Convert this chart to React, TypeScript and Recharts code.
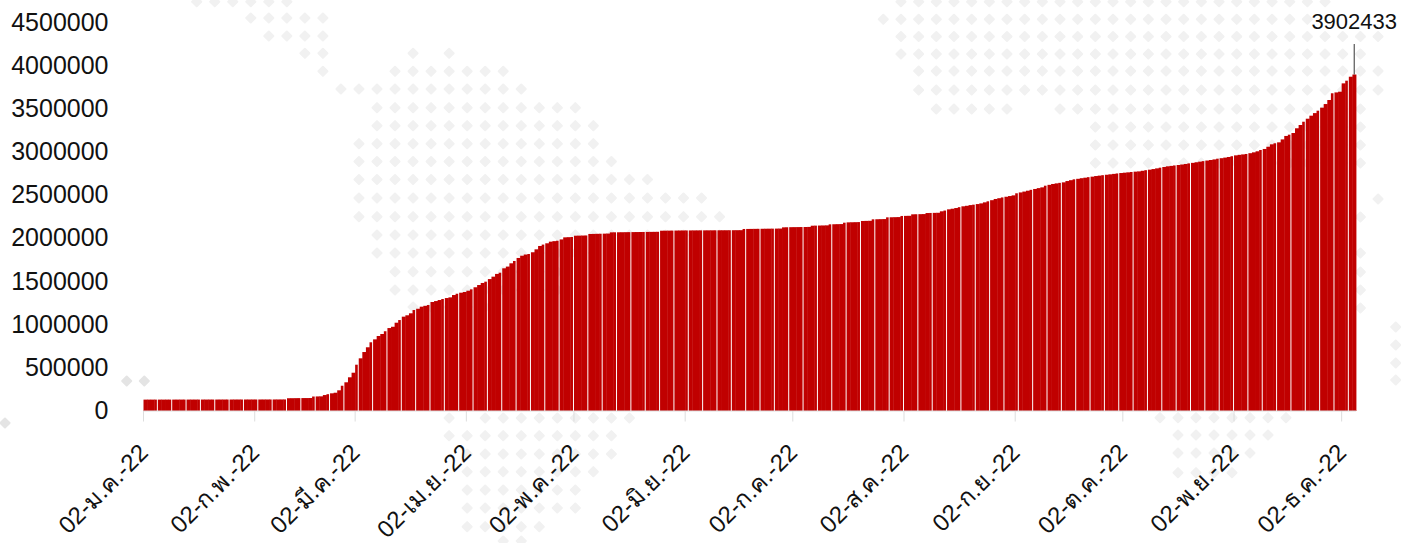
import React from "react";
import { BarChart, Bar, XAxis, YAxis, LabelList } from "recharts";

const monthNames = ["ม.ค.", "ก.พ.", "มี.ค.", "เม.ย.", "พ.ค.", "มิ.ย.", "ก.ค.", "ส.ค.", "ก.ย.", "ต.ค.", "พ.ย.", "ธ.ค."];
const daysInMonth = [31, 28, 31, 30, 31, 30, 31, 31, 30, 31, 30, 31];

const totals = [
  132000, 132000, 132100, 132100, 132200, 132200, 132300, 132300, 132400, 132400,
  132500, 132500, 132600, 132600, 132700, 132700, 132800, 132800, 132900, 132900,
  133000, 133000, 133100, 133100, 133200, 133200, 133300, 133300, 133400, 133400,
  133500, 133500, 133600, 133600, 133700, 133700, 133800, 133800, 133900, 134000,
  148000, 148500, 149000, 149500, 150000, 150000, 150500, 168000, 169000, 170000,
  185000, 195000, 205000, 212000, 240000, 293000, 333000, 391000, 444000, 537000,
  611000, 684000, 739000, 797000, 831000, 870000, 893000, 925000, 962000, 977000,
  1024000, 1055000, 1094000, 1110000, 1133000, 1171000, 1186000, 1210000, 1220000, 1229000,
  1264000, 1275000, 1287000, 1299000, 1310000, 1318000, 1345000, 1360000, 1372000, 1380000,
  1395000, 1411000, 1435000, 1461000, 1485000, 1500000, 1530000, 1558000, 1590000, 1604000,
  1655000, 1675000, 1713000, 1740000, 1775000, 1801000, 1815000, 1821000, 1841000, 1875000,
  1914000, 1930000, 1945000, 1964000, 1970000, 1975000, 1990000, 2014000, 2016000, 2018000,
  2033000, 2034000, 2035000, 2036000, 2053000, 2054000, 2055000, 2056000, 2057000, 2058000,
  2072000, 2072500, 2073000, 2073500, 2074000, 2074500, 2075000, 2075500, 2076000, 2076500,
  2077000, 2077500, 2078000, 2078500, 2091000, 2091500, 2092000, 2092500, 2093000, 2093500,
  2094000, 2094200, 2094400, 2094600, 2094800, 2095000, 2095200, 2095400, 2095600, 2095800,
  2096000, 2096200, 2096400, 2096600, 2096800, 2097000, 2097200, 2111000, 2111500, 2112000,
  2112500, 2113000, 2113500, 2114000, 2114500, 2115000, 2115500, 2116000, 2130000, 2131000,
  2132000, 2132500, 2133000, 2133500, 2134000, 2135000, 2149000, 2150000, 2151000, 2152000,
  2153000, 2165000, 2166000, 2167000, 2168000, 2184000, 2188000, 2189000, 2190000, 2191000,
  2204000, 2205000, 2206000, 2223000, 2224000, 2225000, 2226000, 2246000, 2247000, 2248000,
  2249000, 2262000, 2263000, 2264000, 2281000, 2282000, 2283000, 2284000, 2296000, 2297000,
  2298000, 2299000, 2316000, 2325000, 2339000, 2346000, 2354000, 2364000, 2374000, 2380000,
  2388000, 2393000, 2400000, 2408000, 2420000, 2432000, 2445000, 2459000, 2468000, 2477000,
  2485000, 2493000, 2501000, 2525000, 2535000, 2545000, 2555000, 2565000, 2575000, 2585000,
  2594000, 2613000, 2623000, 2633000, 2640000, 2646000, 2652000, 2667000, 2677000, 2687000,
  2693000, 2700000, 2706000, 2712000, 2718000, 2725000, 2730000, 2735000, 2740000, 2745000,
  2750000, 2755000, 2760000, 2764000, 2768000, 2772000, 2776000, 2779000, 2786000, 2793000,
  2799000, 2806000, 2814000, 2822000, 2830000, 2838000, 2843000, 2848000, 2853000, 2859000,
  2865000, 2872000, 2878000, 2885000, 2892000, 2898000, 2905000, 2911000, 2918000, 2926000,
  2932000, 2939000, 2946000, 2955000, 2965000, 2971000, 2976000, 2981000, 2990000, 3000000,
  3012000, 3027000, 3039000, 3065000, 3093000, 3105000, 3116000, 3150000, 3190000, 3205000,
  3224000, 3279000, 3317000, 3355000, 3390000, 3425000, 3455000, 3483000, 3518000, 3560000,
  3607000, 3685000, 3695000, 3703000, 3800000, 3831000, 3877000, 3902433,
];

const yTicks = [0, 500000, 1000000, 1500000, 2000000, 2500000, 3000000, 3500000, 4000000, 4500000];
const xTicks = monthNames.map((m) => `02-${m}-22`);

function buildDates(count: number): string[] {
  const out: string[] = [];
  let month = 0;
  let day = 2;
  for (let i = 0; i < count; i++) {
    const dd = String(day).padStart(2, "0");
    out.push(`${dd}-${monthNames[month]}-22`);
    day++;
    if (day > daysInMonth[month]) {
      day = 1;
      month++;
    }
  }
  return out;
}
const dates = buildDates(totals.length);
const rows = totals.map((total, i) => ({ date: dates[i], total }));

// Decorative dotted world-map backdrop: [rowY, firstCol, lastCol]
const mapLeft: [number, number, number][] = [
  [1.7, 0, 5], [18, 3, 7], [36, 4, 7], [53.3, 6, 7], [53.3, 12, 12], [53.3, 14, 14], [71.3, 7, 7], [71.3, 11, 17],
  [89, 8, 18], [107.7, 10, 21], [125.7, 10, 22], [143.7, 9, 22], [161.5, 9, 23], [179.5, 9, 25], [198, 9, 28],
  [216.7, 9, 29], [235, 10, 29], [253, 10, 22], [271.7, 11, 20], [290, 11, 20], [307, 12, 16],
  [418, 14, 14], [418, 16, 24], [435.7, 14, 23], [454, 15, 23], [471.7, 15, 22], [490, 15, 21], [508, 15, 21], [526.7, 15, 19], [541, 17, 18],
];
const mapRight: [number, number, number][] = [
  [1.7, 1, 25], [19.3, 0, 24], [36.5, 1, 28], [54, 1, 27], [71, 2, 28], [90, 2, 28], [109, 3, 7], [109, 10, 27],
  [127, 12, 27], [145, 12, 27], [163, 12, 27], [217, 27, 27], [199, 28, 28], [253, 27, 27], [272, 27, 27], [290, 27, 27], [308, 27, 27],
  [327, 29, 29], [345, 29, 29], [363, 29, 29], [380, 29, 29],
];
const mapLower: [number, number, number][] = [
  [417.7, 0, 7], [435, 1, 6], [453, 1, 5], [472.7, 1, 4],
];
const mapStray: [number, number][] = [[126.7, 381], [144.3, 381], [5, 423]];

function Diamond({ x, y, fill }: { x: number; y: number; fill: string }) {
  return <rect x={x - 4.2} y={y - 4.2} width={8.4} height={8.4} rx={1} fill={fill} transform={`rotate(45 ${x} ${y})`} />;
}

function dotsOf(list: [number, number, number][], x0: number, dx: number, key: string) {
  const out: React.ReactNode[] = [];
  list.forEach(([y, a, b], r) => {
    for (let k = a; k <= b; k++) out.push(<Diamond key={`${key}-${r}-${k}`} x={x0 + dx * k} y={y} fill="#f1f1f1" />);
  });
  return out;
}

function Backdrop() {
  return (
    <svg width={1401} height={543} style={{ position: "absolute", left: 0, top: 0 }}>
      {dotsOf(mapLeft, 196.7, 18.03, "l")}
      {dotsOf(mapRight, 883.3, 17.67, "r")}
      {dotsOf(mapLower, 1160, 18, "b")}
      {mapStray.map(([x, y]) => (
        <Diamond key={`${x}`} x={x} y={y} fill="#e4e4e4" />
      ))}
    </svg>
  );
}

const FONT = '"Liberation Sans", Arial, sans-serif';
const THAI_FONT = '"Liberation Sans", "Noto Sans", "DejaVu Sans", sans-serif';

function DateTick(props: any) {
  const { x, y, payload } = props;
  const band = 1212.5 / totals.length;
  const tx = x - band / 2;
  return (
    <g>
      <line x1={tx} x2={tx} y1={y} y2={y + 10.5} stroke="#dddddd" strokeWidth={1} />
      <text
        x={tx + 6}
        y={y + 43}
        textAnchor="end"
        transform={`rotate(-45 ${tx + 6} ${y + 43})`}
        fontFamily={THAI_FONT}
        fontSize={24}
        fill="#111"
      >
        {payload.value}
      </text>
    </g>
  );
}

function RaggedBar(props: any) {
  const { x, y, width, height, index } = props;
  const w = index % 4 === 3 ? width - 1.4 : width;
  return <rect x={x} y={y} width={w} height={height} fill="#c00000" />;
}

function PeakLabel(props: any) {
  const { x, y, width, index, value } = props;
  if (index !== totals.length - 1) return null;
  const cx = x + width / 2 - 0.2;
  return (
    <g>
      <line x1={cx} x2={cx} y1={y} y2={y - 30.5} stroke="#333333" strokeWidth={1} />
      <text x={cx} y={y - 46} textAnchor="middle" fontFamily={FONT} fontSize={22} fill="#111">
        {value}
      </text>
    </g>
  );
}

export default function App() {
  return (
    <div style={{ position: "absolute", left: 0, top: 0, width: 1401, height: 543, overflow: "hidden", background: "#fff" }}>
      <Backdrop />
      <div style={{ position: "absolute", left: 0, top: 0 }}>
        <BarChart
          width={1401}
          height={543}
          data={rows}
          margin={{ top: 23, right: 45, bottom: 0, left: 0 }}
          barCategoryGap={0}
          barGap={0}
        >
          <XAxis
            dataKey="date"
            ticks={xTicks}
            interval={0}
            height={132}
            tickLine={false}
            tickSize={0}
            tickMargin={0}
            axisLine={{ stroke: "#dddddd", strokeWidth: 1 }}
            tick={<DateTick />}
          />
          <YAxis
            width={143.5}
            domain={[0, 4500000]}
            ticks={yTicks}
            interval={0}
            axisLine={false}
            tickLine={false}
            tickSize={0}
            tickMargin={35}
            tick={{ fontFamily: FONT, fontSize: 25, fill: "#111", dy: -1 }}
          />
          <Bar dataKey="total" isAnimationActive={false} shape={<RaggedBar />}>
            <LabelList dataKey="total" content={<PeakLabel />} />
          </Bar>
        </BarChart>
      </div>
    </div>
  );
}
